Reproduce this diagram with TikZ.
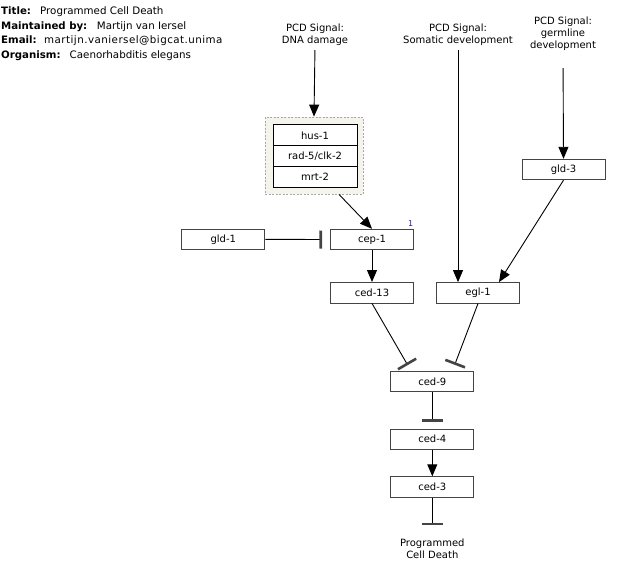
\documentclass[tikz,border=0pt]{standalone}
\usepackage{fontspec}
\setmainfont{DejaVu Sans}
\usetikzlibrary{arrows.meta,calc}
\definecolor{boxline}{HTML}{444444}
\definecolor{barc}{HTML}{444444}
\definecolor{cplxfill}{HTML}{F4F4EC}
\definecolor{cplxline}{HTML}{A8A8A8}
\definecolor{numblue}{HTML}{22229A}
\begin{document}
\begin{tikzpicture}[x=1pt,y=-1pt, font=\fontsize{10}{12}\selectfont,
 gene/.style={draw=boxline, line width=0.9pt, fill=white, minimum width=83pt, minimum height=20.5pt, inner sep=0pt},
 member/.style={draw=black, line width=1pt, fill=white, minimum width=84pt, minimum height=20.7pt, inner sep=0pt},
 sig/.style={align=center, inner sep=0pt},
 hdrlab/.style={anchor=base west, inner sep=0pt, font=\fontsize{10.2}{12}\selectfont\bfseries},
 hdrval/.style={anchor=base west, inner sep=0pt, font=\fontsize{10.3}{12}\selectfont},
 act/.style={draw=black, line width=0.9pt, -{Triangle[length=12pt,width=10pt]}},
 inh/.style={draw=black, line width=0.9pt, -{Bar[width=21pt,line width=2.6pt,color=barc]}},
]
\useasboundingbox (0,0) rectangle (620,582);

% header
\begin{scope}
\clip (0,0) rectangle (250,70);
\node[hdrlab] (l1) at (1,14.6) {Title:};
\node[hdrval] (v1) at (40,14.6) {Programmed Cell Death};
\node[hdrlab] (l2) at (1,29.3) {Maintained by:};
\node[hdrval] (v2) at (96.7,29.3) {Martijn van Iersel};
\node[hdrlab] (l3) at (1,43.6) {Email:};
\node[hdrval] (v3) at (44,43.6) {\addfontfeature{LetterSpace=4.5}martijn.vaniersel@bigcat.unima};
\node[hdrlab] (l4) at (1,58) {Organism:};
\node[hdrval] (v4) at (69.5,58) {Caenorhabditis elegans};
\end{scope}

% signals
\node[sig] (sdna) at (315,35) {PCD Signal:\\DNA damage};
\node[sig] (ssom) at (458,35) {PCD Signal:\\Somatic development};
\node[sig] (sgerm) at (563,34) {PCD Signal:\\germline\\development};

% complex
\node[draw=cplxline, dash pattern=on 2pt off 1.5pt, line width=0.8pt, fill=cplxfill, minimum width=98pt, minimum height=77pt, inner sep=0pt] (cplx) at (314,155.5) {};
\node[member] (hus) at (315,135.3) {hus-1};
\node[member] (rad) at (315,156) {rad-5/clk-2};
\node[member] (mrt) at (315,176.7) {mrt-2};

% genes
\node[gene] (cep1) at (372,239.5) {cep-1};
\node[font=\fontsize{8}{9}\selectfont, text=numblue, anchor=south east, inner sep=0.5pt] (num1) at ([yshift=2pt]cep1.north east) {1};
\node[gene] (gld1) at (223.3,239.3) {gld-1};
\node[gene] (ced13) at (372,292.7) {ced-13};
\node[gene] (egl1) at (478,292.8) {egl-1};
\node[gene] (gld3) at (563.5,169.5) {gld-3};
\node[gene] (ced9) at (432.3,381.3) {ced-9};
\node[gene] (ced4) at (432.3,439.2) {ced-4};
\node[gene] (ced3) at (432.3,487) {ced-3};
\node[sig] (pcd) at (432.3,549) {Programmed\\Cell Death};
\coordinate (pcdend) at (432.3,525.3);

% edges
\draw[act, shorten <=4pt] (sdna.south) -- (cplx.north);
\draw[act] ([xshift=25pt]cplx.south) -- (cep1.north);
\draw[draw=black, line width=0.9pt, -{Bar[width=18pt,line width=2.6pt,color=barc]}] (gld1.east) -- ($(cep1.west)+(-8,0)$);
\draw[act] (cep1.south) -- (ced13.north);
\draw[act, shorten <=4pt] (ssom.south) -- (ssom.south |- egl1.north);
\draw[act, shorten <=17pt] (sgerm.south) -- (gld3.north);
\draw[act] (gld3.south) -- ($(egl1.north)+(21,0)$);
\draw[inh] (ced13.south) -- ($(ced9.north)+(-24.6,-5.5)$);
\draw[inh] (egl1.south) -- ($(ced9.north)+(22.4,-5.8)$);
\draw[inh] (ced9.south) -- ($(ced4.north)+(0,-6.7)$);
\draw[act] (ced4.south) -- (ced3.north);
\draw[inh] (ced3.south) -- (pcdend);
\end{tikzpicture}
\end{document}
